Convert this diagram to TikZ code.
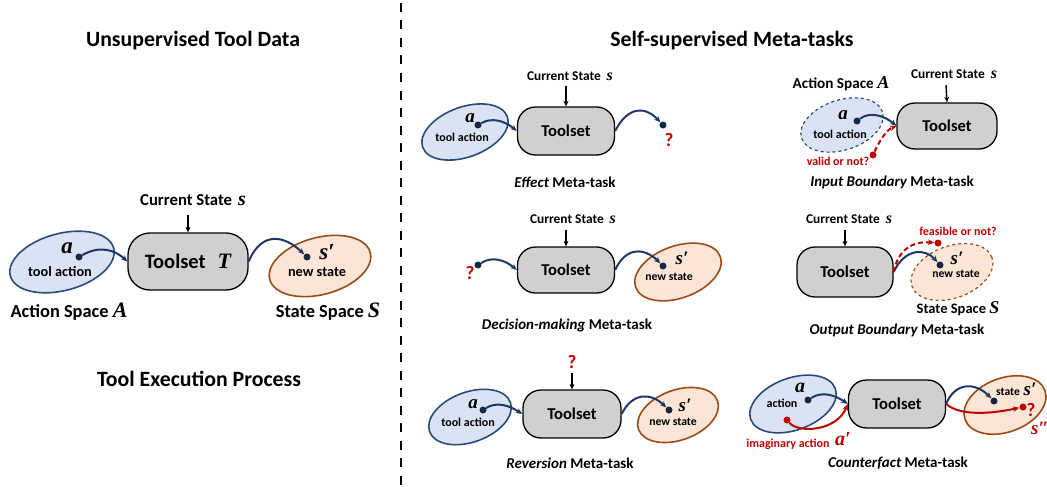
\documentclass[tikz,border=0pt]{standalone}
\usepackage{fontspec}
\setmainfont{Carlito}
\newfontfamily\mv{Liberation Serif}
\usetikzlibrary{shapes.geometric,arrows.meta}
\definecolor{bfill}{HTML}{DAE3F3}
\definecolor{aline}{HTML}{2B4A7C}
\definecolor{navy}{HTML}{1F3864}
\definecolor{ofill}{HTML}{FBE5D6}
\definecolor{oline}{HTML}{9E4A16}
\definecolor{tgray}{HTML}{D0D0D0}
\definecolor{myred}{HTML}{C00000}
\newcommand{\mvar}[2]{{\mv\bfseries\itshape\fontsize{#1}{#1}\selectfont #2}}
\tikzset{
  fs/.style={font={\bfseries\fontsize{#1}{#1}\selectfont}},
  toolbox/.style={draw=black,line width=1.3pt,fill=tgray,rounded corners=18pt,minimum width=97pt,minimum height=48pt,inner sep=0pt,font={\bfseries\fontsize{16.6}{16.6}\selectfont}},
  aell/.style={ellipse,draw=aline,fill=bfill,line width=1.6pt,inner sep=0pt},
  sell/.style={ellipse,draw=oline,fill=ofill,line width=1.6pt,inner sep=0pt},
  dotn/.style={circle,fill=navy!70!black,inner sep=0pt,minimum size=7pt},
  rdot/.style={circle,fill=myred,inner sep=0pt,minimum size=7pt},
  flow/.style={draw=navy,line width=2pt,-{Stealth[length=6.5pt,width=5.5pt]}},
  rflow/.style={draw=myred,line width=2pt,-{Stealth[length=6.5pt,width=5.5pt]}},
  rdash/.style={dash pattern=on 5pt off 3pt},
  down/.style={draw=black,line width=1.4pt,-{Stealth[length=5.5pt,width=5pt]}},
  redtxt/.style={text=myred},
}
\begin{document}
\begin{tikzpicture}[x=1pt,y=-1pt]
\useasboundingbox (0,0) rectangle (1047,487);
% titles
\node[fs=21.8] (t1) at (193,41) {Unsupervised Tool Data};
\node[fs=21.8] (t2) at (732,41) {Self-supervised Meta-tasks};
\node[fs=21.8] (t3) at (199,379) {Tool Execution Process};
\coordinate (d0) at (401,3);
\coordinate (d1) at (401,487);
\draw[line width=2.6pt,dash pattern=on 9pt off 8.5pt] (d0) -- (d1);

% ---------- left: tool execution process
\node[aell,minimum width=107pt,minimum height=57pt,rotate=15] (A) at (62,262) {};
\node[sell,minimum width=104pt,minimum height=57pt,rotate=15] (S) at (320,266) {};
\node[toolbox,minimum width=120pt,minimum height=57pt,rounded corners=22pt,font={\bfseries\fontsize{20.5}{20.5}\selectfont}] (T) at (188,261.5) {Toolset\hspace{12pt}\mvar{22}{T}};
\node (la) at (67,248) {\mvar{23}{a}};
\node[dotn] (da) at (79,257) {};
\node[fs=14.3] (lta) at (60,272) {tool action};
\node[fs=16.7] (lcs) at (193,200) {Current State\hspace{6pt}\mvar{20}{s}};
\coordinate (c0) at (188,215);
\draw[down] (c0) -- (T.north);
\node[dotn] (ds) at (307,257) {};
\node (ls) at (327,252) {\mvar{23}{s′}};
\node[fs=14.3] (lns) at (317,272) {new state};
\node[fs=18.4] (las) at (69,312) {Action Space \mvar{22}{A}};
\node[fs=18.4] (lss) at (328,312) {State Space \mvar{22}{S}};
\draw[flow] (da) .. controls (100,245) and (115,250) .. (T.west);
\draw[flow] (T.east) .. controls (262,230) and (285,236) .. (ds);

% ---------- Effect
\node[aell,minimum width=90pt,minimum height=50pt,rotate=20] (EA1) at (465,132) {};
\node (la1) at (470,118) {\mvar{19}{a}};
\node[dotn] (da1) at (478,125) {};
\node[fs=12] (lt1) at (462,137) {tool action};
\node[toolbox] (E) at (566,131) {Toolset};
\node[fs=13.4] (cs1) at (570,76) {Current State\hspace{6pt}\mvar{16}{s}};
\coordinate (c1) at (566,86);
\draw[down] (c1) -- (E.north);
\node[dotn] (dq1) at (663,125) {};
\node[fs=19,redtxt] (q1) at (669,140) {?};
\draw[flow] (da1) .. controls (492,117) and (505,121) .. (E.west);
\draw[flow] (E.east) .. controls (628,106) and (645,106) .. (dq1);
\node[fs=15] (cap1) at (565,182) {{\itshape Effect} Meta-task};

% ---------- Input boundary
\node[toolbox,minimum width=100pt,minimum height=46pt] (IB) at (947,126) {Toolset};
\node[fs=13.4] (cs2) at (954,74) {Current State\hspace{6pt}\mvar{16}{s}};
\coordinate (c2) at (946,85);
\draw[down] (c2) -- (IB.north);
\node[aell,dashed,line width=1.2pt,minimum width=85pt,minimum height=50pt,rotate=18] (EA2) at (842,125) {};
\node[fs=15.2] (las2) at (841,84) {Action Space \mvar{18}{A}};
\node (la2) at (843,115) {\mvar{19}{a}};
\node[dotn] (da2) at (857,121) {};
\node[fs=12] (lt2) at (840,134) {tool action};
\draw[flow] (da2) .. controls (870,111) and (885,116) .. (IB.west);
\node[rdot] (rd2) at (873,155) {};
\draw[rflow,rdash] (rd2) .. controls (879,142) and (886,130) .. (IB.west);
\node[fs=12,redtxt] (lv2) at (838,161) {valid or not?};
\node[fs=15] (cap2) at (892,182) {{\itshape Input Boundary} Meta-task};

% ---------- Decision-making
\node[toolbox,minimum height=46pt] (D) at (566,270) {Toolset};
\node[fs=13.4] (cs3) at (573,219) {Current State\hspace{6pt}\mvar{16}{s}};
\coordinate (c3) at (566,230);
\draw[down] (c3) -- (D.north);
\node[fs=19,redtxt] (q3) at (470,273) {?};
\node[dotn] (dq3) at (478,265) {};
\draw[flow] (dq3) .. controls (492,256) and (505,260) .. (D.west);
\node[sell,minimum width=90pt,minimum height=52pt,rotate=20] (ES3) at (678,272) {};
\node[dotn] (ds3) at (663,266) {};
\node (ls3) at (682,258) {\mvar{19}{s′}};
\node[fs=11.7] (ln3) at (669,277) {new state};
\draw[flow] (D.east) .. controls (626,246) and (645,248) .. (ds3);
\node[fs=15] (cap3) at (567,325) {{\itshape Decision-making} Meta-task};

% ---------- Output boundary
\node[toolbox,minimum width=96pt,minimum height=50pt] (O) at (845,272) {Toolset};
\node[fs=13.4] (cs4) at (849,219) {Current State\hspace{6pt}\mvar{16}{s}};
\coordinate (c4) at (845,230);
\draw[down] (c4) -- (O.north);
\node[sell,dashed,line width=1.2pt,minimum width=85pt,minimum height=52pt,rotate=20] (ES4) at (952,272) {};
\node[dotn] (ds4) at (940,265) {};
\node (ls4) at (957,258) {\mvar{19}{s′}};
\node[fs=11.7] (ln4) at (956,274) {new state};
\node[rdot] (rd4) at (938,243) {};
\draw[flow] (O.east) .. controls (905,248) and (925,248) .. (ds4);
\draw[rflow,rdash] (O.east) .. controls (898,250) and (912,241) .. (rd4);
\node[fs=12,redtxt] (lf4) at (958,231) {feasible or not?};
\node[fs=14.5] (lss4) at (958,309) {State Space \mvar{18}{S}};
\node[fs=15] (cap4) at (897,330) {{\itshape Output Boundary} Meta-task};

% ---------- Reversion
\node[toolbox,minimum width=98pt] (R) at (572,414) {Toolset};
\node[fs=19,redtxt] (q5) at (572,362) {?};
\coordinate (c5) at (572,373);
\draw[down] (c5) -- (R.north);
\node[aell,minimum width=86pt,minimum height=50pt,rotate=20] (EA5) at (470,417) {};
\node (la5) at (473,404) {\mvar{19}{a}};
\node[dotn] (da5) at (483,410) {};
\node[fs=12] (lt5) at (468,422) {tool action};
\draw[flow] (da5) .. controls (497,401) and (510,406) .. (R.west);
\node[sell,minimum width=84pt,minimum height=50pt,rotate=20] (ES5) at (678,415) {};
\node[dotn] (ds5) at (669,410) {};
\node (ls5) at (685,405) {\mvar{19}{s′}};
\node[fs=11.7] (ln5) at (673,422) {new state};
\draw[flow] (R.east) .. controls (632,393) and (650,392) .. (ds5);
\node[fs=15] (cap5) at (570,463) {{\itshape Reversion} Meta-task};

% ---------- Counterfact
\node[toolbox] (C) at (897,404) {Toolset};
\node[aell,minimum width=90pt,minimum height=52pt,rotate=20] (EA6) at (793,404) {};
\node (la6) at (800,388) {\mvar{20}{a}};
\node[fs=12] (lac6) at (782,403) {action};
\node[dotn] (da6) at (808,400) {};
\draw[flow] (da6) .. controls (822,391) and (835,395) .. (C.west);
\node[rdot] (ra6) at (787,420) {};
\draw[rflow] (ra6) .. controls (798,433) and (836,432) .. (C.west);
\node[fs=12,redtxt] (lia6) at (788,444) {imaginary action};
\node[redtxt] (lap6) at (843,439) {\mvar{20}{a′}};
\node[sell,minimum width=85pt,minimum height=54pt,rotate=20] (ES6) at (1005,405) {};
\node[fs=11.6] (lst6) at (1008,392) {state};
\node (lsp6) at (1030,389) {\mvar{19}{s′}};
\node[dotn] (ds6) at (994,401) {};
\node[rdot] (rs6) at (1023,407) {};
\draw[flow] (C.east) .. controls (955,382) and (975,382) .. (ds6);
\draw[rflow] (C.east) .. controls (960,416) and (990,414) .. (rs6);
\node[fs=19,redtxt] (q6) at (1031,410) {?};
\node[redtxt] (lspp6) at (1040,428) {\mvar{19}{s″}};
\node[fs=15] (cap6) at (898,463) {{\itshape Counterfact} Meta-task};
\end{tikzpicture}
\end{document}
